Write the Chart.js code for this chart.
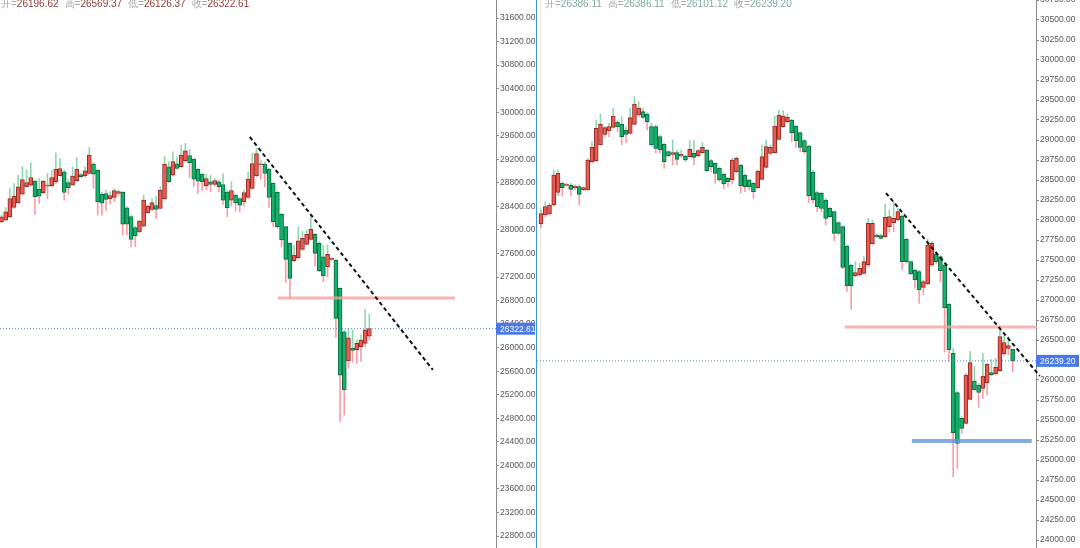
<!DOCTYPE html>
<html>
<head>
<meta charset="utf-8">
<script src="https://cdn.jsdelivr.net/npm/chart.js@4.4.0/dist/chart.umd.min.js"></script>
<style>
  html, body { margin: 0; padding: 0; background: #fff; }
  #wrap { position: relative; width: 1080px; height: 548px; overflow: hidden; }
  canvas { position: absolute; top: 0; }
  #left { left: 0; }
  #right { left: 537px; }
  .sep { position: absolute; top: 0; left: 536px; width: 1px; height: 548px; background: #3a98dc; }
  .edge { position: absolute; top: 0; left: 540px; width: 1px; height: 548px; background: #e4e4e4; }
  .hdr { position: absolute; top: -2px; font: 10px "Liberation Sans", Arial, sans-serif; line-height: 12px; white-space: nowrap; z-index: 2; }
  .hdr span.k { color: #a8a8a8; }
  .hdr span.g { margin-right: 6px; }
  #hdrL .n { color: #8c3a34; }
  #hdrR .n { color: #7eab97; }
</style>
</head>
<body>
<div id="wrap">
  <canvas id="left" width="536" height="548"></canvas>
  <div class="sep"></div>
  <div class="edge"></div>
  <canvas id="right" width="543" height="548"></canvas>
  <div class="hdr" id="hdrL" style="left:1px"></div>
  <div class="hdr" id="hdrR" style="left:545px"></div>
</div>
<script>
// ---- left panel (older market, 400-point axis) ----
const leftOpen = [28138,28166,28223,28381,28461,28608,28733,28761,28829,28693,
  28631,28744,28750,28818,28920,28988,28806,28761,28835,28942,
  28920,28959,29118,29016,28608,28619,28529,28551,28619,28642,
  28376,28228,28041,27968,28064,28291,28347,28415,28364,28529,
  29073,28931,29124,29073,29175,29265,29203,29033,28948,28750,
  28818,28772,28818,28772,28642,28506,28591,28534,28478,28551,
  28704,28920,29107,29118,29033,28790,28638,28265,28055,27772,
  27478,27528,27670,27755,27840,27925,27772,27545,27376,27500,
  27490,27007,26271,25773,25990,25960,26017,26073,26196.62];
const leftHigh = [28251,28381,28704,28789,28931,29073,29016,29141,28846,28874,
  28846,28959,29016,29311,29214,29016,28857,29073,29231,28959,
  29073,29401,29141,29027,28648,28676,28648,28704,28676,28653,
  28393,28251,28064,28166,28591,28421,28534,28574,28733,29254,
  29158,29328,29243,29441,29469,29367,29214,29044,28959,28948,
  28931,28874,28846,28959,28676,28818,28608,28551,28676,28988,
  29299,29384,29186,29158,29044,28800,28660,28280,28060,27790,
  27744,28055,27970,27998,28225,27942,27800,27744,27744,27520,
  27500,27020,26300,26328,26300,26130,26215,26651,26569.37];
const leftLow = [28121,28155,28211,28364,28449,28591,28733,28744,28262,28449,
  28619,28534,28733,28789,28914,28506,28608,28761,28818,28891,
  28891,28948,28704,28251,28251,28336,28449,28478,28591,27911,
  27911,27713,27713,27956,28053,28279,28325,28194,28359,28517,
  28801,28914,29027,29061,29158,28891,28744,28619,28676,28676,
  28648,28744,28648,28432,28223,28404,28319,28308,28404,28534,
  28687,28903,28857,28733,28381,28053,28027,27715,27104,26844,
  27461,27517,27659,27744,27829,27387,27290,27121,27205,27480,
  26175,24743,24856,25649,25750,25734,25762,26017,26126.37];
const leftClose = [28223,28308,28534,28574,28733,28857,28806,28891,28563,28574,
  28829,28761,28891,29033,29044,28636,28716,28914,29033,28903,
  29005,29271,28948,28478,28455,28517,28585,28670,28653,28098,
  28098,27837,27900,28149,28506,28404,28466,28347,28676,29118,
  28818,29163,29044,29271,29345,29141,28863,28829,28818,28874,
  28772,28840,28733,28506,28376,28670,28461,28421,28636,28863,
  29129,29299,29118,28959,28551,28140,28055,27829,27500,27177,
  27574,27817,27857,27925,28010,27602,27308,27217,27585,27510,
  26498,25535,25281,26169,25955,26073,26130,26300,26322.61];
const leftTrend = [[59.4, 29579], [103.2, 25621]];   // [candle index, price]
const leftLevel = [[66.1, 26844], [108.5, 26844]];

// ---- right panel (recent market, 250-point axis) ----
const rightOpen = [27950,28063,28075,28188,28346,28458,28433,28438,28404,28417,
  28375,28375,28729,28738,28938,29071,29112,29158,29221,29196,
  29125,29083,29196,29312,29354,29325,29167,29167,29042,28946,
  28854,28821,28842,28800,28800,28792,28833,28804,28842,28875,
  28742,28708,28646,28571,28521,28500,28604,28688,28563,28500,
  28458,28404,28508,28658,28833,28842,29008,29167,29229,29250,
  29175,29092,28992,28925,28600,28342,28333,28250,28146,28104,
  27967,27917,27675,27438,27300,27312,27333,27438,27700,27812,
  27804,27792,27917,27967,28000,28050,27758,27479,27375,27354,
  27158,27200,27438,27575,27542,27438,26950,26333,25842,25521,
  25458,25758,25988,25938,25896,25967,26092,26075,26117,26325,
  26396,26386.11];
const rightHigh = [28120,28229,28208,28625,28625,28479,28460,28458,28440,28438,
  28417,28771,28979,29250,29325,29167,29208,29396,29242,29292,
  29167,29396,29542,29479,29396,29342,29208,29188,29062,28958,
  28867,29000,28875,28875,28813,28992,28992,28883,28967,28883,
  28758,28717,28658,28583,28533,28771,28792,28700,28575,28508,
  28467,28625,28938,29000,28938,29300,29375,29367,29325,29258,
  29188,29104,29008,28938,28620,28360,28350,28270,28160,28110,
  27980,27930,27690,27450,27479,27458,27542,28021,28000,27830,
  27820,28200,28125,28229,28146,28060,27770,27490,27390,27370,
  27250,27758,27730,27590,27560,27450,26960,26400,25860,25540,
  26083,26354,26167,25958,26333,26208,26258,26271,26667,26562,
  26542,26386.11];
const rightLow = [27900,28042,28063,28175,28300,28300,28420,28300,28380,28188,
  28367,28367,28708,28729,28938,29042,29042,29146,29104,28938,
  28967,29071,29188,29292,29271,29125,28925,28842,28833,28646,
  28792,28688,28688,28783,28729,28779,28688,28792,28833,28604,
  28604,28458,28479,28388,28417,28450,28592,28333,28354,28375,
  28271,28396,28500,28646,28813,28833,29000,29158,29217,28979,
  28908,28854,28833,28220,28210,28104,28100,27938,28030,27742,
  27820,27390,27104,26883,27290,27300,27320,27420,27690,27780,
  27760,27780,27854,27854,27990,27375,27460,27312,27146,26958,
  27062,27190,27417,27460,27229,26350,26229,24792,24896,25333,
  25450,25750,25870,25658,25771,25812,26050,26063,26104,26312,
  26312,26101.12];
const rightClose = [28080,28167,28188,28563,28583,28404,28446,28383,28425,28321,
  28404,28750,28908,29146,29200,29154,29167,29300,29167,29042,
  29071,29279,29450,29396,29283,29229,28938,28896,28875,28729,
  28800,28842,28758,28821,28750,28883,28783,28867,28908,28617,
  28667,28583,28500,28450,28479,28750,28771,28425,28417,28417,
  28354,28613,28792,28917,28908,29175,29312,29300,29283,29092,
  28992,28908,28854,28300,28250,28167,28146,28021,28042,27833,
  27833,27408,27175,27175,27342,27396,27479,27958,27958,27792,
  27771,28033,28042,28021,28104,27479,27479,27325,27250,27125,
  27229,27688,27708,27479,27367,26900,26375,25342,25208,25396,
  26063,26217,25875,25846,26050,26196,26063,26158,26542,26467,
  26429,26239.20];
const rightTrend = [[81.2, 28337], [117.4, 26050]];
const rightLevel = [[71.5, 26662], [116.7, 26662]];
const rightSupport = [[87.3, 25237], [115.5, 25237]];

const headLabels = ['开', '高', '低', '收'];

const RED = '#ec5a51', RED_EDGE = '#8f2b24';
const GREEN = '#15b26c', GREEN_EDGE = '#0c6a40';

function header(id, o, h, l, c) {
  const vals = [o, h, l, c].map(v => v[v.length - 1].toFixed(2));
  document.getElementById(id).innerHTML = headLabels
    .map((k, i) => `<span class="g"><span class="k">${k}=</span><span class="n">${vals[i]}</span></span>`)
    .join('');
}
header('hdrL', leftOpen, leftHigh, leftLow, leftClose);
header('hdrR', rightOpen, rightHigh, rightLow, rightClose);

function candleSets(open, high, low, close) {
  const body = [], up = [], down = [], fill = [], edge = [];
  open.forEach((o, i) => {
    const c = close[i];
    const top = Math.max(o, c), bot = Math.min(o, c);
    body.push({ x: i, y: [bot, top] });
    up.push({ x: i, y: [top, high[i]] });
    down.push({ x: i, y: [low[i], bot] });
    fill.push(c >= o ? RED : GREEN);
    edge.push(c >= o ? RED_EDGE : GREEN_EDGE);
  });
  const wick = { barThickness: 1, grouped: false, order: 2, borderWidth: 0 };
  return [
    { data: body, backgroundColor: fill, borderColor: edge, borderWidth: 1,
      borderSkipped: false, barThickness: 4, minBarLength: 1, grouped: false, order: 1 },
    { ...wick, data: up, backgroundColor: 'rgba(110,200,150,0.75)' },
    { ...wick, data: down, backgroundColor: 'rgba(244,125,138,0.75)' },
  ];
}

function line(points, color, width, dash) {
  return {
    type: 'line', data: points.map(p => ({ x: p[0], y: p[1] })),
    borderColor: color, borderWidth: width, borderDash: dash || [],
    pointRadius: 0, clip: false, order: 0, tension: 0,
  };
}

const priceTag = {
  id: 'priceTag',
  afterDraw(chart, args, opts) {
    const s = chart.scales.y, ctx = chart.ctx;
    const y = s.getPixelForValue(opts.value);
    ctx.save();
    ctx.fillStyle = '#4a78e6';
    ctx.fillRect(s.left, y - 6, s.width - 1, 12);
    ctx.fillStyle = '#fff';
    ctx.font = '8.5px "Liberation Sans", Arial, sans-serif';
    ctx.textBaseline = 'middle';
    ctx.fillText(opts.value.toFixed(2), s.left + 4, y + 0.5);
    ctx.restore();
  }
};

function makeChart(id, o, h, l, c, xMin, xMax, yMin, yMax, step, axisW, extra) {
  const last = c[c.length - 1];
  const datasets = [
    ...extra,
    line([[xMin, last], [xMax, last]], '#5a7de0', 1, [1, 2]),
    ...candleSets(o, h, l, c),
  ];
  return new Chart(document.getElementById(id), {
    type: 'bar',
    data: { datasets },
    plugins: [priceTag],
    options: {
      responsive: false,
      devicePixelRatio: 1,
      animation: false,
      layout: { padding: 0 },
      plugins: { legend: { display: false }, tooltip: { enabled: false }, priceTag: { value: last } },
      scales: {
        x: { type: 'linear', display: false, min: xMin, max: xMax, offset: false },
        y: {
          position: 'right', min: yMin, max: yMax,
          afterBuildTicks(scale) {
            const ticks = [];
            for (let v = Math.ceil(yMin / step) * step; v <= yMax; v += step) ticks.push({ value: v });
            scale.ticks = ticks;
          },
          afterFit(scale) { scale.width = axisW; scale.paddingTop = 0; scale.paddingBottom = 0; },
          border: { display: true, color: '#8a8a8a' },
          grid: { drawOnChartArea: false, tickLength: 3, color: '#8a8a8a' },
          ticks: {
            autoSkip: false, padding: 1,
            color: '#555', font: { size: 8.5, family: '"Liberation Sans", Arial, sans-serif' },
            callback: v => v.toFixed(2),
          },
        },
      },
    },
  });
}

makeChart('left', leftOpen, leftHigh, leftLow, leftClose,
  -0.36, 118.3, 22597, 31906, 400, 40, [
    line(leftTrend, '#111', 2, [4, 3]),
    line(leftLevel, 'rgba(248,160,160,0.8)', 3),
  ]);

makeChart('right', rightOpen, rightHigh, rightLow, rightClose,
  -0.94, 116.5, 23900, 30750, 250, 44, [
    line(rightTrend, '#111', 2, [4, 3]),
    line(rightLevel, 'rgba(248,160,160,0.8)', 3),
    line(rightSupport, 'rgba(100,150,215,0.8)', 4),
  ]);
</script>
</body>
</html>
